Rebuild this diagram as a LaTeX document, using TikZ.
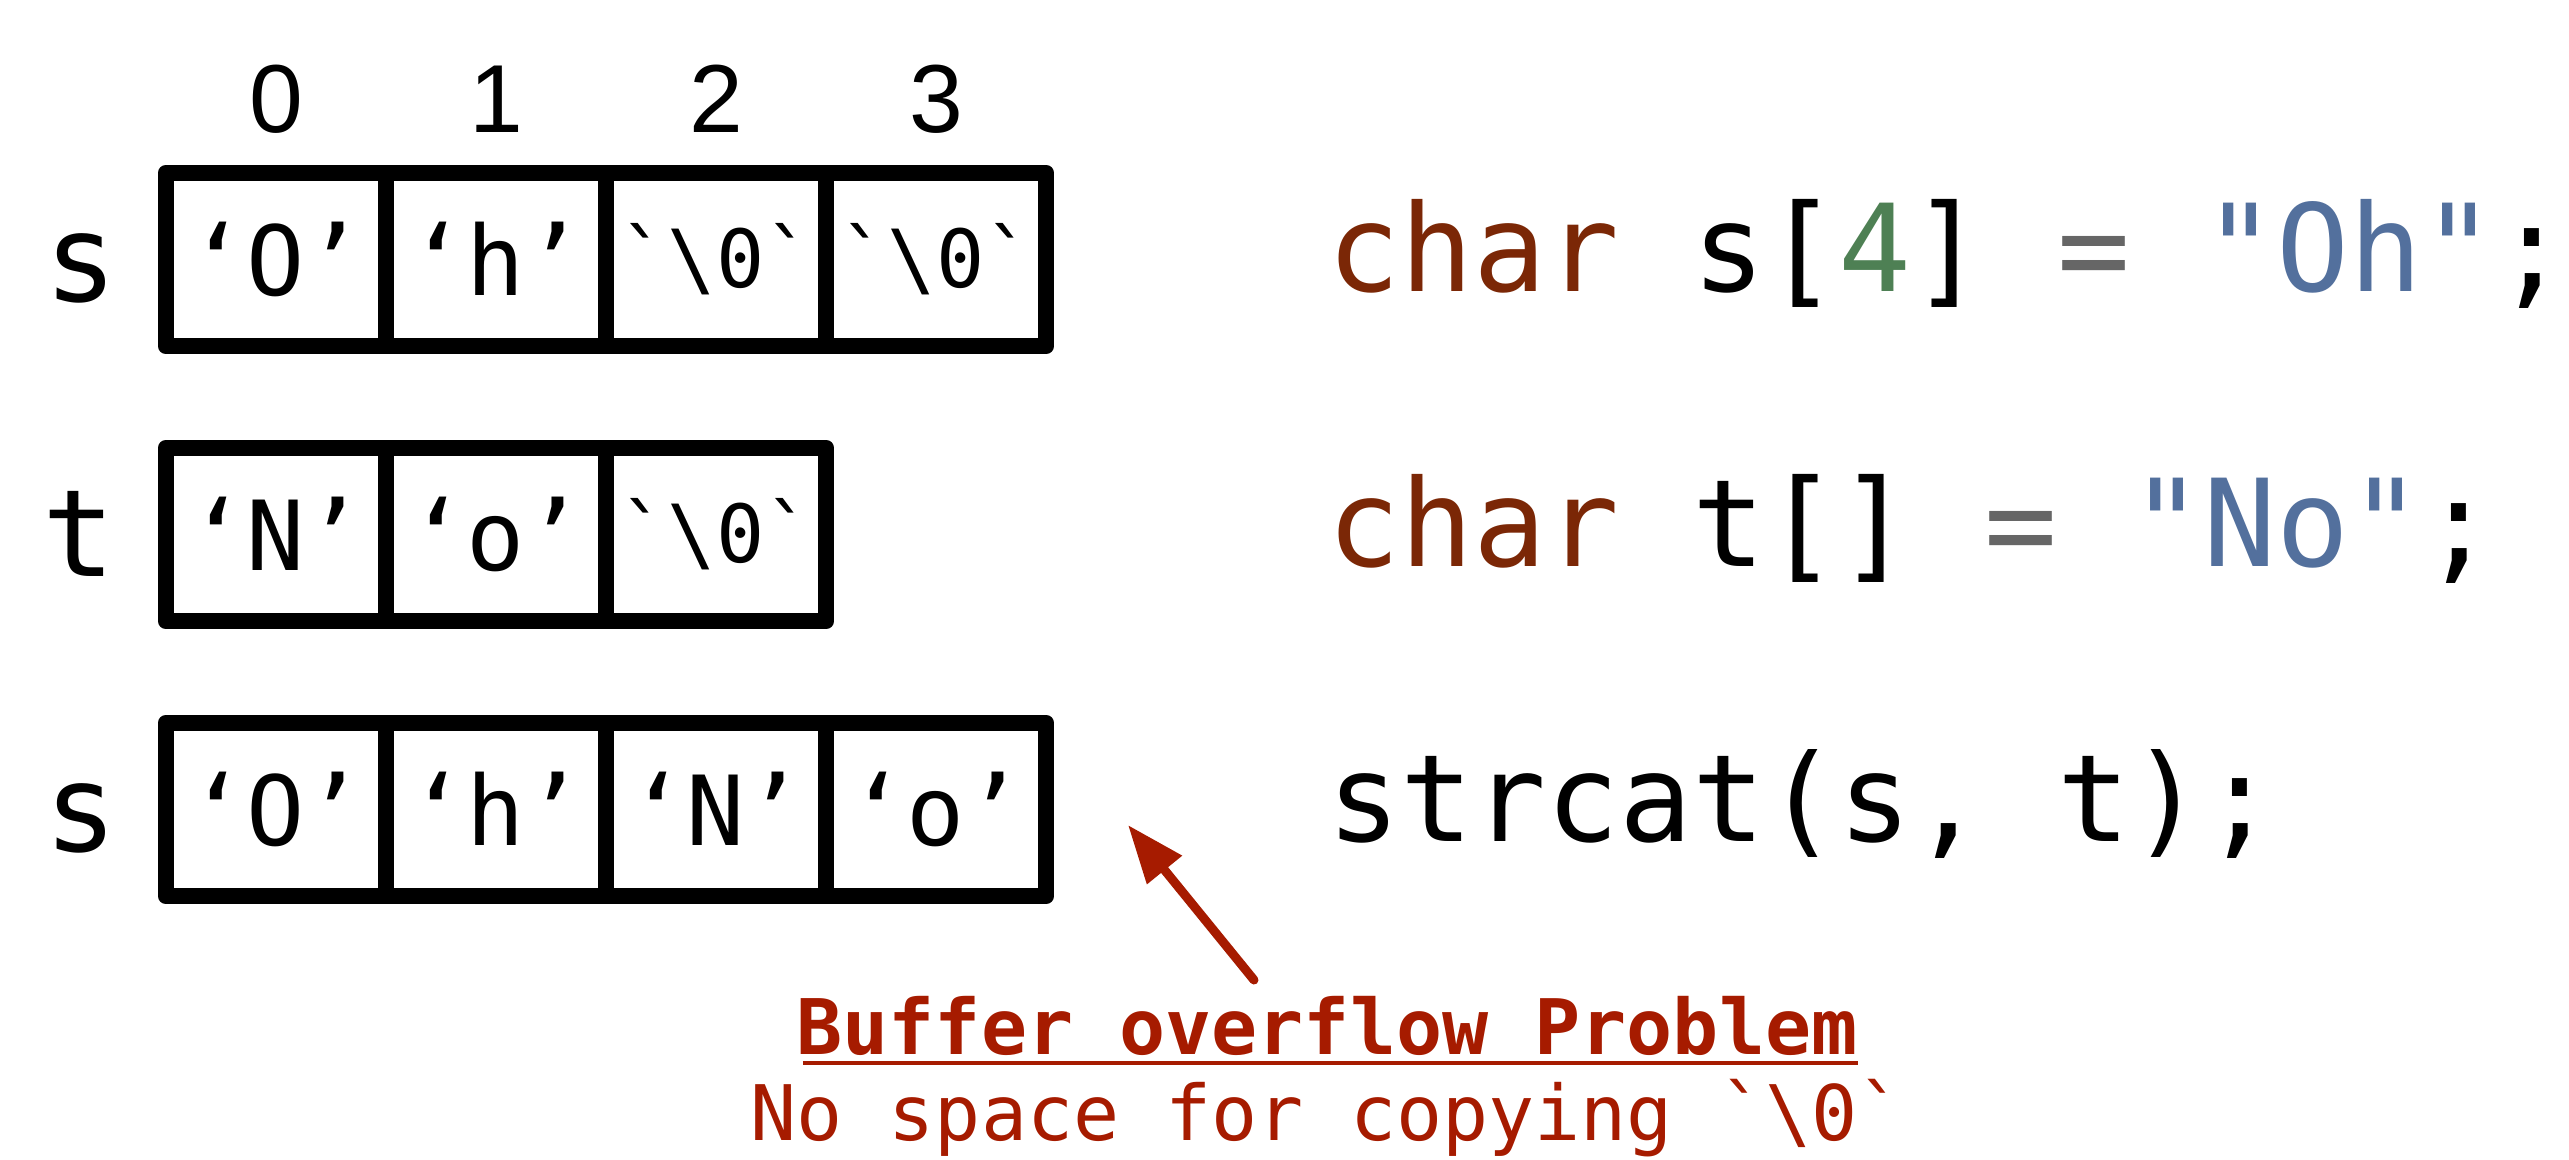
\documentclass[tikz,border=0pt]{standalone}
\usepackage{fontspec}
\newfontfamily\codefont[Ligatures=TeXOff]{DejaVu Sans Mono}
\newfontfamily\idxfont{Liberation Sans}
\usetikzlibrary{arrows.meta}
\definecolor{kwcol}{RGB}{123,39,6}
\definecolor{numcol}{RGB}{78,128,84}
\definecolor{opcol}{RGB}{102,102,102}
\definecolor{strcol}{RGB}{83,112,157}
\definecolor{warncol}{RGB}{166,27,0}
\begin{document}
\begin{tikzpicture}[
  cell/.style={draw=black, line width=0.165cm, line join=round, minimum width=2.2cm, minimum height=1.73cm, inner sep=0pt, outer sep=0pt},
  celltxt/.style={anchor=base, inner sep=0pt, font=\codefont\fontsize{27.5}{30}\selectfont},
  nultxt/.style={anchor=base, inner sep=0pt, font=\codefont\fontsize{22.8}{26}\selectfont},
  idx/.style={anchor=base, inner sep=0pt, font=\idxfont\fontsize{27.5}{30}\selectfont},
  lbl/.style={anchor=base, inner sep=0pt, font=\codefont\fontsize{34.5}{40}\selectfont},
  code/.style={anchor=base west, inner sep=0pt, font=\codefont\fontsize{34.5}{40}\selectfont},
  warn/.style={anchor=base, inner sep=0pt, text=warncol, font=\codefont\fontsize{21.8}{25}\selectfont},
  warnarrow/.style={draw=warncol, line width=0.09cm, line cap=round, -{Triangle[length=0.58cm,width=0.43cm]}}
]
\useasboundingbox (0,0) rectangle (25.69,-11.59);

% index labels
\node[idx] (i0) at (2.76,-1.32) {0};
\node[idx] (i1) at (4.96,-1.32) {1};
\node[idx] (i2) at (7.16,-1.32) {2};
\node[idx] (i3) at (9.36,-1.32) {3};

% row 1: s
\node[lbl] (ls1) at (0.81,-3.01) {s};
\node[cell] (a0) at (2.76,-2.595) {};
\node[cell] (a1) at (4.96,-2.595) {};
\node[cell] (a2) at (7.16,-2.595) {};
\node[cell] (a3) at (9.36,-2.595) {};
\node[celltxt] (a0t) at (2.76,-2.95) {‘O’};
\node[celltxt] (a1t) at (4.96,-2.95) {‘h’};
\node[nultxt] (a2t) at (7.16,-2.87) {`{\textbackslash}0`};
\node[nultxt] (a3t) at (9.36,-2.87) {`{\textbackslash}0`};

% row 2: t
\node[lbl] (lt) at (0.79,-5.76) {t};
\node[cell] (b0) at (2.76,-5.345) {};
\node[cell] (b1) at (4.96,-5.345) {};
\node[cell] (b2) at (7.16,-5.345) {};
\node[celltxt] (b0t) at (2.76,-5.70) {‘N’};
\node[celltxt] (b1t) at (4.96,-5.70) {‘o’};
\node[nultxt] (b2t) at (7.16,-5.62) {`{\textbackslash}0`};

% row 3: s after strcat
\node[lbl] (ls3) at (0.81,-8.51) {s};
\node[cell] (c0) at (2.76,-8.095) {};
\node[cell] (c1) at (4.96,-8.095) {};
\node[cell] (c2) at (7.16,-8.095) {};
\node[cell] (c3) at (9.36,-8.095) {};
\node[celltxt] (c0t) at (2.76,-8.45) {‘O’};
\node[celltxt] (c1t) at (4.96,-8.45) {‘h’};
\node[celltxt] (c2t) at (7.16,-8.45) {‘N’};
\node[celltxt] (c3t) at (9.36,-8.45) {‘o’};

% code
\node[code] (code1) at (13.27,-2.91) {\textcolor{kwcol}{char} s[\textcolor{numcol}{4}] \textcolor{opcol}{=} \textcolor{strcol}{"Oh"};};
\node[code] (code2) at (13.27,-5.66) {\textcolor{kwcol}{char} t[] \textcolor{opcol}{=} \textcolor{strcol}{"No"};};
\node[code] (code3) at (13.27,-8.41) {strcat(s, t);};

% annotation
\node[warn, font=\codefont\bfseries\fontsize{21.8}{25}\selectfont] (warn1) at (13.27,-10.54) {Buffer overflow Problem};
\node[warn] (warn2) at (13.27,-11.40) {No space for copying `{\textbackslash}0`};
\draw[draw=warncol, line width=0.033cm] ([xshift=0.07cm,yshift=-0.09cm]warn1.base west) -- ([yshift=-0.09cm]warn1.base east);

\coordinate (arrtail) at (12.54,-9.80);
\coordinate (arrtip) at (11.28,-8.25);
\draw[warnarrow] (arrtail) -- (arrtip);
\end{tikzpicture}
\end{document}
